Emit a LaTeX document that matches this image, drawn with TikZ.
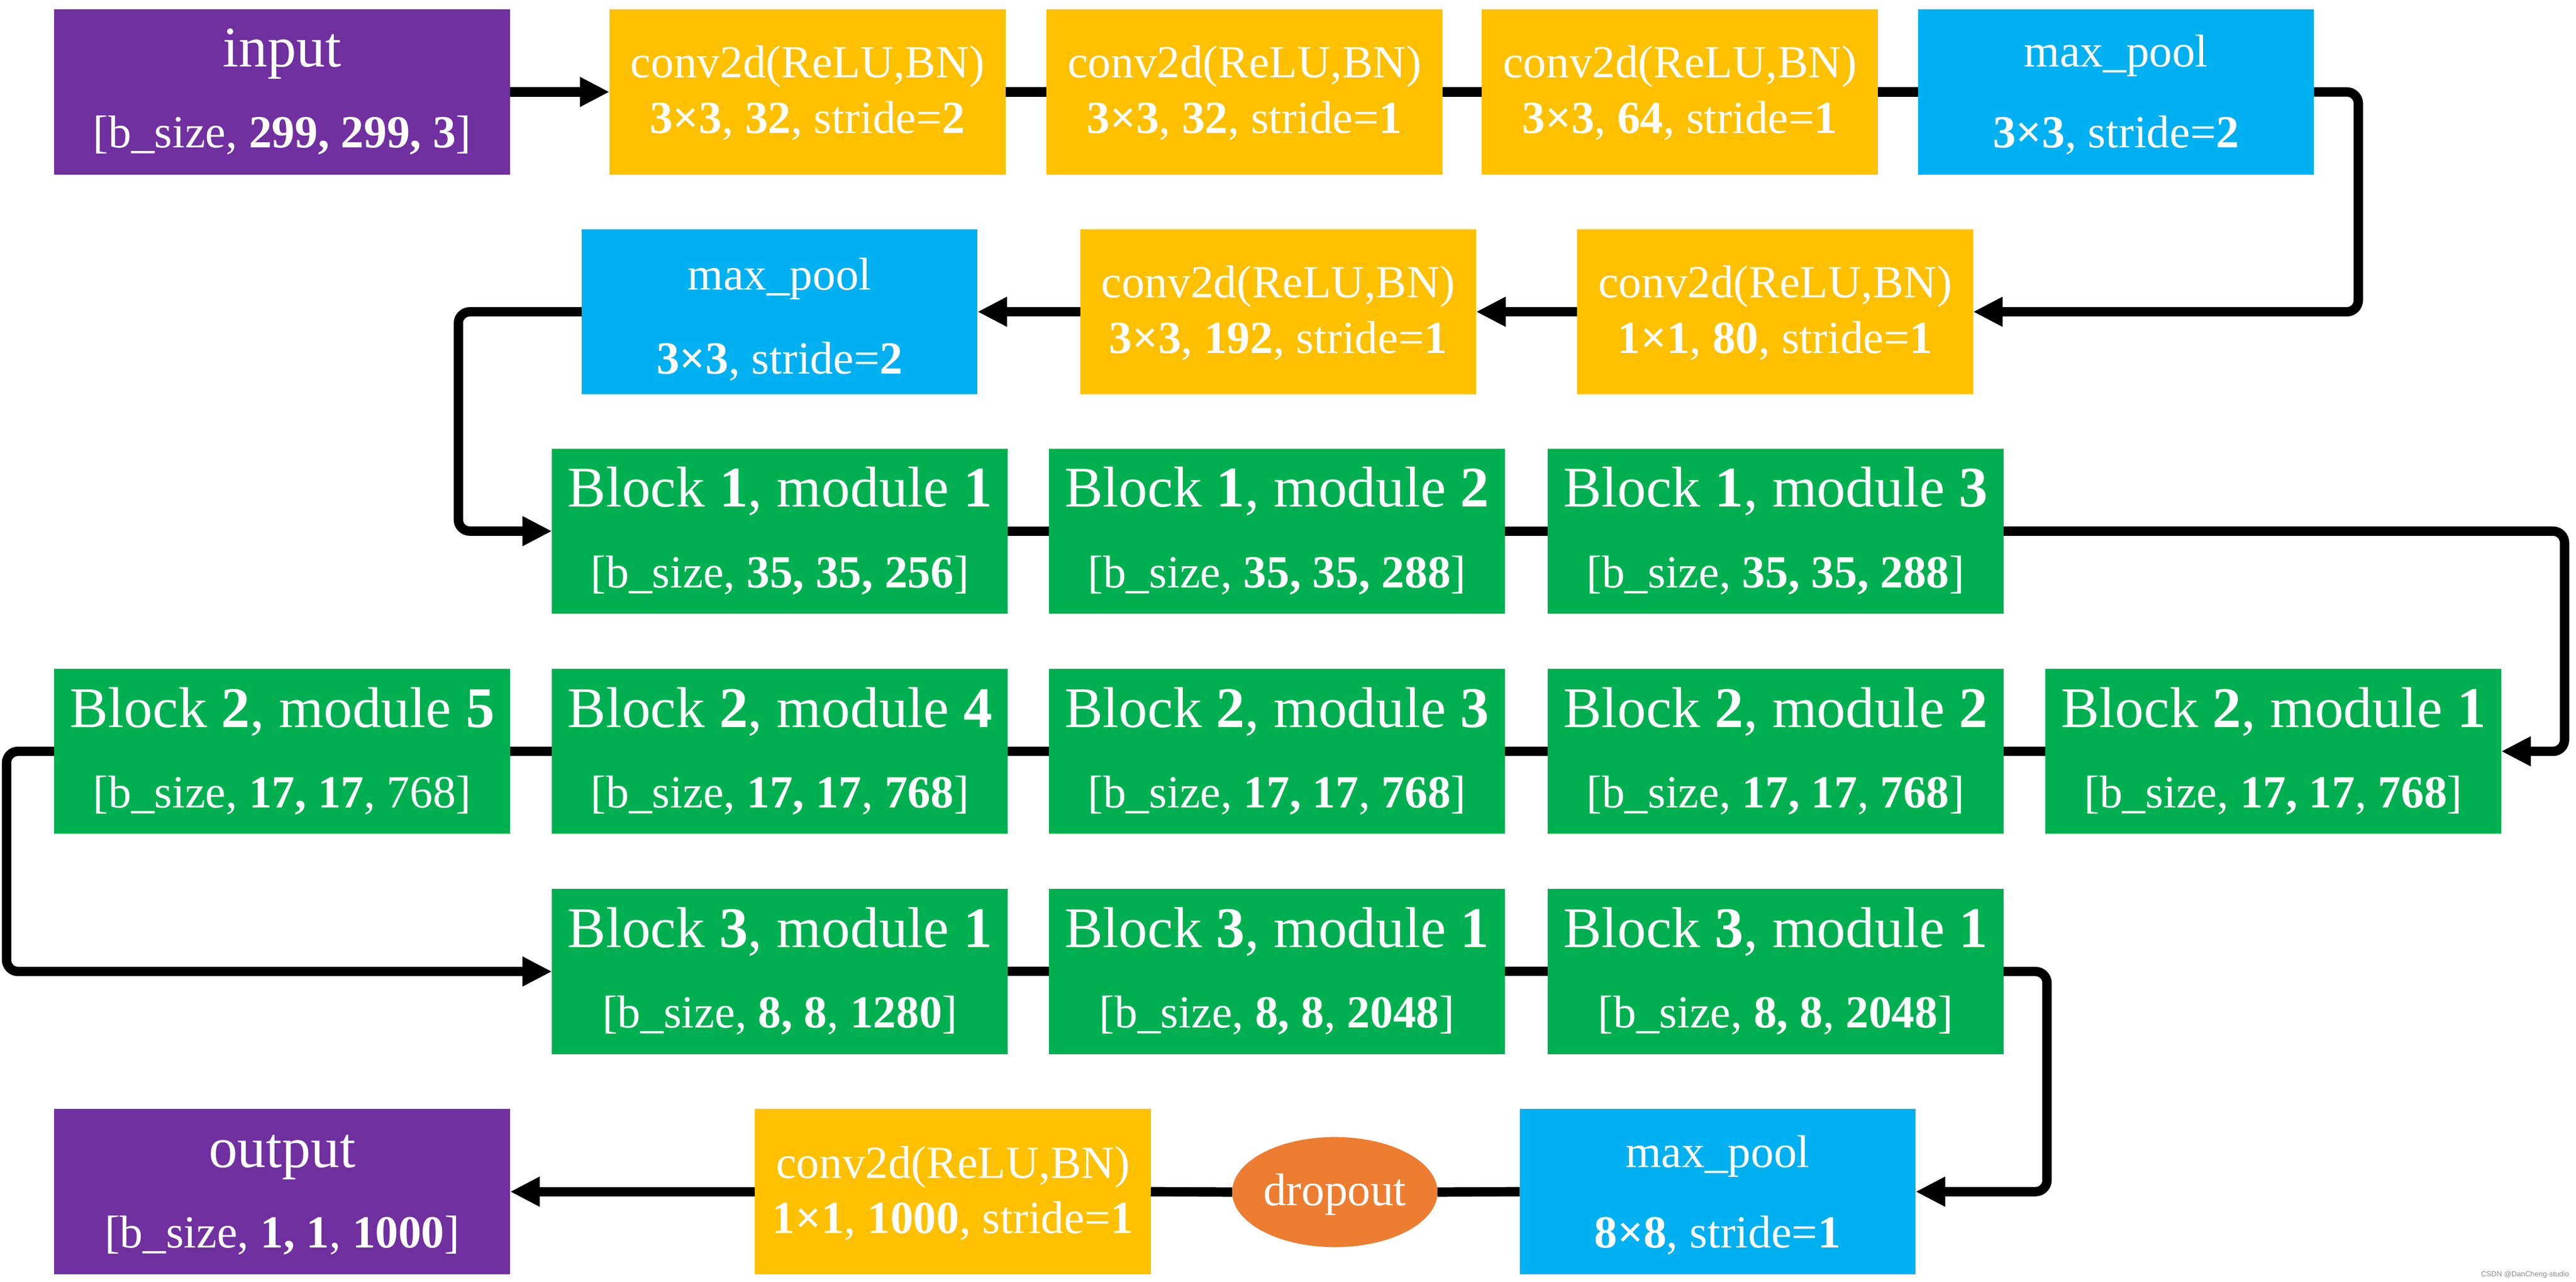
\documentclass[tikz,border=0pt]{standalone}
\usepackage{fontspec}
\setmainfont{Liberation Serif}
\newfontfamily\wmfont{Liberation Sans}
\usetikzlibrary{arrows.meta,calc,shapes.geometric}
\definecolor{cPurple}{HTML}{7030A0}
\definecolor{cYellow}{HTML}{FFC000}
\definecolor{cCyan}{HTML}{00B0F0}
\definecolor{cGreen}{HTML}{00B050}
\definecolor{cOrange}{HTML}{ED7D31}
\begin{document}
\begin{tikzpicture}[x=1pt,y=-1pt,
  box/.style={inner sep=0pt, outer sep=0pt, anchor=north west, minimum height=100.5pt},
  wide/.style={box, minimum width=277.5pt},
  narrow/.style={box, minimum width=241pt},
  iobox/.style={wide, fill=cPurple},
  convbox/.style={narrow, fill=cYellow},
  poolbox/.style={narrow, fill=cCyan},
  blockbox/.style={wide, fill=cGreen},
  big/.style={text=white, inner sep=0pt, anchor=base, font=\fontsize{35}{40}\selectfont},
  small/.style={text=white, inner sep=0pt, anchor=base, font=\fontsize{28}{32}\selectfont},
  link/.style={line width=5.7pt, draw=black},
  arrow/.style={link, -{Triangle[length=18pt,width=17pt]}},
  turn/.style={rounded corners=7pt},
]
\useasboundingbox[fill=white] (0,0) rectangle (1568,780);

% ---------- Row 1 ----------
\node[iobox]   (in)  at (33,5.7) {};
\node[convbox] (c1)  at (371,5.7) {};
\node[convbox] (c2)  at (637,5.7) {};
\node[convbox] (c3)  at (902,5.7) {};
\node[poolbox] (mp1) at (1167.5,5.7) {};

\node[big]   (inT1)  at ($(in.north)+(0,35)$) {input};
\node[small] (inT2)  at ($(in.north)+(0,84)$) {[b\_size, \textbf{299, 299, 3}]};
\node[small] (c1T1)  at ($(c1.north)+(0,41.5)$) {conv2d(ReLU,BN)};
\node[small] (c1T2)  at ($(c1.north)+(0,75.5)$) {\textbf{3×3}, \textbf{32}, stride=\textbf{2}};
\node[small] (c2T1)  at ($(c2.north)+(0,41.5)$) {conv2d(ReLU,BN)};
\node[small] (c2T2)  at ($(c2.north)+(0,75.5)$) {\textbf{3×3}, \textbf{32}, stride=\textbf{1}};
\node[small] (c3T1)  at ($(c3.north)+(0,41.5)$) {conv2d(ReLU,BN)};
\node[small] (c3T2)  at ($(c3.north)+(0,75.5)$) {\textbf{3×3}, \textbf{64}, stride=\textbf{1}};
\node[small] (mp1T1) at ($(mp1.north)+(0,35)$) {max\_pool};
\node[small] (mp1T2) at ($(mp1.north)+(0,84)$) {\textbf{3×3}, stride=\textbf{2}};

% ---------- Row 2 ----------
\node[poolbox] (mp2) at (354,139.5) {};
\node[convbox] (cB)  at (657.5,139.5) {};
\node[convbox] (cA)  at (960,139.5) {};

\node[small] (mp2T1) at ($(mp2.north)+(0,37)$) {max\_pool};
\node[small] (mp2T2) at ($(mp2.north)+(0,88)$) {\textbf{3×3}, stride=\textbf{2}};
\node[small] (cBT1)  at ($(cB.north)+(0,41.5)$) {conv2d(ReLU,BN)};
\node[small] (cBT2)  at ($(cB.north)+(0,75.5)$) {\textbf{3×3}, \textbf{192}, stride=\textbf{1}};
\node[small] (cAT1)  at ($(cA.north)+(0,41.5)$) {conv2d(ReLU,BN)};
\node[small] (cAT2)  at ($(cA.north)+(0,75.5)$) {\textbf{1×1}, \textbf{80}, stride=\textbf{1}};

% ---------- Row 3 ----------
\node[blockbox] (b11) at (336,273) {};
\node[blockbox] (b12) at (638.5,273) {};
\node[blockbox] (b13) at (942,273) {};

\node[big]   (b11T1) at ($(b11.north)+(0,35.5)$) {Block \textbf{1}, module \textbf{1}};
\node[small] (b11T2) at ($(b11.north)+(0,84.5)$) {[b\_size, \textbf{35, 35, 256}]};
\node[big]   (b12T1) at ($(b12.north)+(0,35.5)$) {Block \textbf{1}, module \textbf{2}};
\node[small] (b12T2) at ($(b12.north)+(0,84.5)$) {[b\_size, \textbf{35, 35, 288}]};
\node[big]   (b13T1) at ($(b13.north)+(0,35.5)$) {Block \textbf{1}, module \textbf{3}};
\node[small] (b13T2) at ($(b13.north)+(0,84.5)$) {[b\_size, \textbf{35, 35, 288}]};

% ---------- Row 4 ----------
\node[blockbox] (b25) at (33,407) {};
\node[blockbox] (b24) at (336,407) {};
\node[blockbox] (b23) at (638.5,407) {};
\node[blockbox] (b22) at (942,407) {};
\node[blockbox] (b21) at (1245,407) {};

\node[big]   (b25T1) at ($(b25.north)+(0,35.5)$) {Block \textbf{2}, module \textbf{5}};
\node[small] (b25T2) at ($(b25.north)+(0,84.5)$) {[b\_size, \textbf{17, 17}, 768]};
\node[big]   (b24T1) at ($(b24.north)+(0,35.5)$) {Block \textbf{2}, module \textbf{4}};
\node[small] (b24T2) at ($(b24.north)+(0,84.5)$) {[b\_size, \textbf{17, 17}, \textbf{768}]};
\node[big]   (b23T1) at ($(b23.north)+(0,35.5)$) {Block \textbf{2}, module \textbf{3}};
\node[small] (b23T2) at ($(b23.north)+(0,84.5)$) {[b\_size, \textbf{17, 17}, \textbf{768}]};
\node[big]   (b22T1) at ($(b22.north)+(0,35.5)$) {Block \textbf{2}, module \textbf{2}};
\node[small] (b22T2) at ($(b22.north)+(0,84.5)$) {[b\_size, \textbf{17, 17}, \textbf{768}]};
\node[big]   (b21T1) at ($(b21.north)+(0,35.5)$) {Block \textbf{2}, module \textbf{1}};
\node[small] (b21T2) at ($(b21.north)+(0,84.5)$) {[b\_size, \textbf{17, 17}, \textbf{768}]};

% ---------- Row 5 ----------
\node[blockbox] (b31) at (336,541) {};
\node[blockbox] (b32) at (638.5,541) {};
\node[blockbox] (b33) at (942,541) {};

\node[big]   (b31T1) at ($(b31.north)+(0,35.5)$) {Block \textbf{3}, module \textbf{1}};
\node[small] (b31T2) at ($(b31.north)+(0,84.5)$) {[b\_size, \textbf{8, 8}, \textbf{1280}]};
\node[big]   (b32T1) at ($(b32.north)+(0,35.5)$) {Block \textbf{3}, module \textbf{1}};
\node[small] (b32T2) at ($(b32.north)+(0,84.5)$) {[b\_size, \textbf{8, 8}, \textbf{2048}]};
\node[big]   (b33T1) at ($(b33.north)+(0,35.5)$) {Block \textbf{3}, module \textbf{1}};
\node[small] (b33T2) at ($(b33.north)+(0,84.5)$) {[b\_size, \textbf{8, 8}, \textbf{2048}]};

% ---------- Row 6 ----------
\node[iobox]   (out) at (33,675) {};
\node[convbox] (c6)  at (459.5,675) {};
\node[ellipse, fill=cOrange, inner sep=0pt, outer sep=0pt,
      minimum width=125pt, minimum height=67pt] (drop) at (812.5,725.5) {};
\node[poolbox] (mp3) at (925,675) {};

\node[big]   (outT1) at ($(out.north)+(0,35.5)$) {output};
\node[small] (outT2) at ($(out.north)+(0,84.5)$) {[b\_size, \textbf{1, 1}, \textbf{1000}]};
\node[small] (c6T1)  at ($(c6.north)+(0,42)$) {conv2d(ReLU,BN)};
\node[small] (c6T2)  at ($(c6.north)+(0,75.5)$) {\textbf{1×1}, \textbf{1000}, stride=\textbf{1}};
\node[small] (dropT) at ($(drop.center)+(0,8)$) {dropout};
\node[small] (mp3T1) at ($(mp3.north)+(0,35.5)$) {max\_pool};
\node[small] (mp3T2) at ($(mp3.north)+(0,84.5)$) {\textbf{8×8}, stride=\textbf{1}};

% ---------- turning points ----------
\coordinate (k1) at (1435.5,0);
\coordinate (k2) at (279,0);
\coordinate (k3) at (1561,0);
\coordinate (k4) at (4,0);
\coordinate (k5) at (1246,0);

% ---------- connectors ----------
\draw[arrow] (in.east) -- (c1.west);
\draw[link] (c1.east) -- (c2.west);
\draw[link] (c2.east) -- (c3.west);
\draw[link] (c3.east) -- (mp1.west);
\draw[arrow,turn] (mp1.east) -- (mp1.east -| k1) -- (k1 |- cA.east) -- (cA.east);

\draw[arrow] (cA.west) -- (cB.east);
\draw[arrow] (cB.west) -- (mp2.east);
\draw[arrow,turn] (mp2.west) -- (mp2.west -| k2) -- (k2 |- b11.west) -- (b11.west);

\draw[link] (b11.east) -- (b12.west);
\draw[link] (b12.east) -- (b13.west);
\draw[arrow,turn] (b13.east) -- (b13.east -| k3) -- (k3 |- b21.east) -- (b21.east);

\draw[link] (b21.west) -- (b22.east);
\draw[link] (b22.west) -- (b23.east);
\draw[link] (b23.west) -- (b24.east);
\draw[link] (b24.west) -- (b25.east);
\draw[arrow,turn] (b25.west) -- (b25.west -| k4) -- (k4 |- b31.west) -- (b31.west);

\draw[link] (b31.east) -- (b32.west);
\draw[link] (b32.east) -- (b33.west);
\draw[arrow,turn] (b33.east) -- (b33.east -| k5) -- (k5 |- mp3.east) -- (mp3.east);

\draw[link] (mp3.west) -- (drop.east);
\draw[link] (drop.west) -- (c6.east);
\draw[arrow] (c6.west) -- (out.east);

% ---------- watermark ----------
\node[text=black!45, inner sep=0pt, anchor=base east, font=\wmfont\fontsize{4.5}{5}\selectfont]
  (wm) at (1564,777) {CSDN @DanCheng-studio};
\end{tikzpicture}
\end{document}
